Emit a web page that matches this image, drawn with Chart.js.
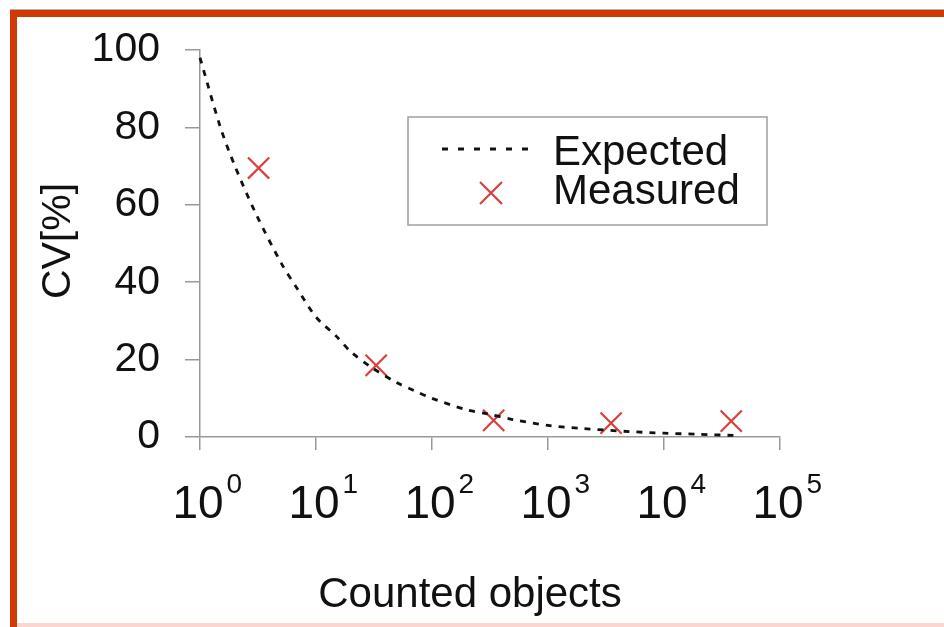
<!DOCTYPE html>
<html>
<head>
<meta charset="utf-8">
<script src="https://cdn.jsdelivr.net/npm/chart.js@4/dist/chart.umd.min.js"></script>
<style>
  html, body { margin: 0; padding: 0; background: #fff; }
  canvas { display: block; }
</style>
</head>
<body>
<canvas id="cv" width="944" height="627"></canvas>
<script>
// expected curve
const expectedN  = [1, 1.5, 2, 3, 5, 7, 10, 15, 20, 30, 50, 70, 100, 200, 300, 500, 1000, 2000, 5000, 10000, 20000, 40000];
const expectedCV = [98, 80, 70, 58, 45, 38, 31, 26, 22, 18, 14, 12, 10, 7, 6, 4.5, 3, 2.2, 1.4, 1, 0.7, 0.4];

// measured points (red crosses)
const measuredN  = [3.2, 33, 340, 3500, 38000];
const measuredCV = [69.5, 18.5, 4.3, 3.6, 4.1];

const xDecades = [1, 10, 100, 1000, 10000, 100000];
const xExponents = ['0', '1', '2', '3', '4', '5'];

const FONT = '"Liberation Sans", Arial, Helvetica, sans-serif';
const DASH = [6, 7];
const RED = '#d9403c';

const framePlugin = {
  id: 'frame',
  beforeDraw(chart) {
    const c = chart.ctx;
    c.save();
    c.fillStyle = '#fff';
    c.fillRect(0, 0, chart.width, chart.height);
    c.fillStyle = '#b0b0b0';
    c.fillRect(10, 9, chart.width - 10, 1);
    c.fillStyle = '#cf3a04';
    c.fillRect(10, 10, chart.width - 10, 7);
    c.fillRect(10, 10, 7, chart.height - 10);
    c.fillStyle = '#fbd6d0';
    c.fillRect(17, 623, chart.width - 17, 4);
    c.restore();
  }
};

const textPlugin = {
  id: 'texts',
  afterDraw(chart) {
    const c = chart.ctx;
    const xs = chart.scales.x;
    c.save();
    c.fillStyle = '#111';

    // x tick labels 10^n
    xDecades.forEach((v, i) => {
      const px = xs.getPixelForValue(v);
      c.font = '46px ' + FONT;
      c.textAlign = 'center';
      c.textBaseline = 'alphabetic';
      c.fillText('10', px - 2, 518);
      const w = c.measureText('10').width;
      c.font = '28px ' + FONT;
      c.textAlign = 'left';
      c.fillText(xExponents[i], px - 2 + w / 2 + 3, 493);
    });

    // axis titles
    c.font = '42px ' + FONT;
    c.textAlign = 'center';
    c.fillText('Counted objects', 470, 607);
    c.save();
    c.translate(70, 241);
    c.rotate(-Math.PI / 2);
    c.textBaseline = 'alphabetic';
    c.font = '41px ' + FONT;
    c.fillText('CV[%]', 0, 0);
    c.restore();

    // legend
    c.strokeStyle = '#a0a0a0';
    c.lineWidth = 1.5;
    c.strokeRect(408, 117, 359, 108);
    c.strokeStyle = '#111';
    c.lineWidth = 2.8;
    c.setLineDash([6, 10]);
    c.beginPath();
    c.moveTo(442, 149);
    c.lineTo(530, 149);
    c.stroke();
    c.setLineDash([]);
    c.strokeStyle = RED;
    c.lineWidth = 2.2;
    c.beginPath();
    c.moveTo(480, 182); c.lineTo(502, 204);
    c.moveTo(502, 182); c.lineTo(480, 204);
    c.stroke();
    c.font = '42px ' + FONT;
    c.textAlign = 'left';
    c.fillStyle = '#111';
    c.fillText('Expected', 553, 165);
    c.fillText('Measured', 553, 204);
    c.restore();
  }
};

new Chart(document.getElementById('cv'), {
  type: 'scatter',
  data: {
    datasets: [
      {
        label: 'Expected',
        data: expectedN.map((n, i) => ({ x: n, y: expectedCV[i] })),
        showLine: true,
        borderColor: '#111',
        borderWidth: 2.8,
        borderDash: DASH,
        pointRadius: 0,
        tension: 0.3,
        clip: false
      },
      {
        label: 'Measured',
        data: measuredN.map((n, i) => ({ x: n, y: measuredCV[i] })),
        showLine: false,
        pointStyle: 'crossRot',
        pointRadius: 15,
        borderColor: RED,
        backgroundColor: RED,
        borderWidth: 2.2,
        clip: false
      }
    ]
  },
  options: {
    responsive: false,
    animation: false,
    layout: { padding: { left: 0, top: 50, right: 164, bottom: 0 } },
    plugins: { legend: { display: false }, tooltip: { enabled: false } },
    scales: {
      x: {
        type: 'logarithmic',
        min: 1,
        max: 100000,
        afterBuildTicks: s => { s.ticks = xDecades.map(v => ({ value: v })); },
        afterFit: s => { s.height = 190; },
        ticks: { display: false },
        grid: { drawOnChartArea: false, color: '#999', lineWidth: 1.5, tickLength: 13 },
        border: { color: '#999', width: 1.5 }
      },
      y: {
        min: 0,
        max: 100,
        afterFit: s => { s.width = 200; },
        ticks: { stepSize: 20, padding: 25, color: '#111', font: { family: FONT, size: 41 } },
        grid: { drawOnChartArea: false, color: '#999', lineWidth: 1.5, tickLength: 15 },
        border: { color: '#999', width: 1.5 }
      }
    }
  },
  plugins: [framePlugin, textPlugin]
});
</script>
</body>
</html>
